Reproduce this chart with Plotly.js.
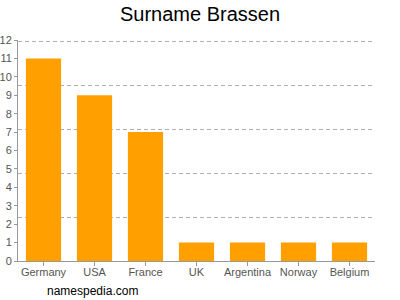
<!DOCTYPE html>
<html><head><meta charset="utf-8">
<script src="https://cdn.plot.ly/plotly-3.0.1.min.js"></script>
<style>html,body{margin:0;padding:0;}#c{width:400px;height:300px;}</style>
</head><body><div id="c"></div>
<script>
const countries = ["Germany","USA","France","UK","Argentina","Norway","Belgium"];
const counts = [11,9,7,1,1,1,1];
const yTicks = [0,1,2,3,4,5,6,7,8,9,10,11,12];
const gridVals = [2.4,4.8,7.2,9.6,12];

const data = [
  {type:"bar", x:countries, y:counts, marker:{color:"#FFA000"}, hoverinfo:"x+y"},
  {type:"scatter", x:countries, y:[null,null,null,null,null,null,null], yaxis:"y2", showlegend:false, hoverinfo:"skip"}
];
const layout = {
  width:400, height:300,
  margin:{l:18, r:25, t:40, b:39},
  paper_bgcolor:"#fff", plot_bgcolor:"#fff",
  showlegend:false,
  bargap:0.31,
  title:{text:"Surname Brassen", x:0.5, xanchor:"center", y:0.953, yanchor:"middle", font:{family:"Liberation Sans, Arial, sans-serif", size:20, color:"#000"}},
  font:{family:"Liberation Sans, Arial, sans-serif", size:11, color:"#555"},
  xaxis:{type:"category", showline:true, linecolor:"#999", linewidth:1, ticks:"outside", ticklen:4, tickcolor:"#999", showgrid:false, tickfont:{size:11, color:"#555"}, ticklabelstandoff:-3, fixedrange:true},
  yaxis:{range:[0,12], tickvals:yTicks, ticktext:yTicks.map(String), showline:true, linecolor:"#999", linewidth:1, ticks:"outside", ticklen:3, tickcolor:"#999", showgrid:false, zeroline:false, tickfont:{size:11, color:"#555"}, fixedrange:true},
  yaxis2:{range:[0,12.06], overlaying:"y", side:"right", tickvals:gridVals, showgrid:true, gridcolor:"#b0b0b0", griddash:"4px,3px", gridwidth:1, showticklabels:false, ticks:"", zeroline:false, showline:false, fixedrange:true},
  annotations:[{text:"namespedia.com", xref:"paper", yref:"paper", x:0.075, xanchor:"left", y:-0.135, yanchor:"middle", showarrow:false, font:{family:"Liberation Sans, Arial, sans-serif", size:12, color:"#000"}}]
};
Plotly.newPlot("c", data, layout, {displayModeBar:false, staticPlot:true});
</script></body></html>
